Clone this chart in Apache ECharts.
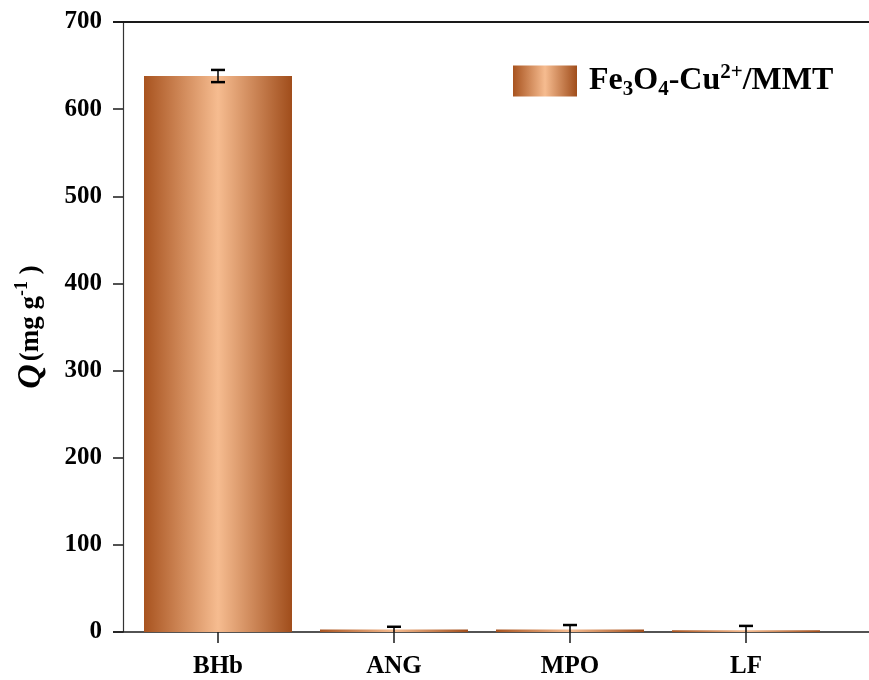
<!DOCTYPE html>
<html>
<head>
<meta charset="utf-8">
<script src="https://cdn.jsdelivr.net/npm/echarts@6/dist/echarts.min.js"></script>
<style>
  html, body { margin: 0; padding: 0; background: #fff; }
  #main { width: 869px; height: 680px; }
</style>
</head>
<body>
<div id="main"></div>
<script>
// data
var categories = ['BHb', 'ANG', 'MPO', 'LF'];
var qValues = [638, 3, 3, 2];
var qErrors = [7, 3, 5, 5];
var yTicks = { min: 0, max: 700, interval: 100 };

var serif = '"Liberation Serif", "Times New Roman", serif';
var ink = '#1a1a1a';

var barColor = new echarts.graphic.LinearGradient(0, 0, 1, 0, [
    { offset: 0, color: '#A8531F' },
    { offset: 0.5, color: '#F6BC90' },
    { offset: 1, color: '#A04D1B' }
]);

// error bars are cut at the x axis, as in the original
var errData = categories.map(function (c, i) {
    return [i, Math.max(yTicks.min, qValues[i] - qErrors[i]), qValues[i] + qErrors[i]];
});

var chart = echarts.init(document.getElementById('main'));
var gridLeft = 130;
var yOffset = 7;

chart.setOption({
    animation: false,
    textStyle: { fontFamily: serif },
    grid: { left: gridLeft, right: 35, top: 22, bottom: 48 },
    legend: {
        left: 513,
        top: 62,
        padding: 0,
        itemWidth: 64,
        itemHeight: 31,
        icon: 'rect',
        data: ['Fe3O4-Cu2+/MMT'],
        formatter: function () {
            return '{b|Fe}{sub|3}{b|O}{sub|4}{b|-Cu}{sup|2+}{b|/MMT}';
        },
        textStyle: {
            padding: [0, 0, 0, 7],
            rich: {
                b: { fontSize: 32, fontWeight: 'bold', fontFamily: serif, color: '#000', lineHeight: 38 },
                sub: { fontSize: 21, fontWeight: 'bold', fontFamily: serif, color: '#000', lineHeight: 19, verticalAlign: 'bottom' },
                sup: { fontSize: 21, fontWeight: 'bold', fontFamily: serif, color: '#000', lineHeight: 21, verticalAlign: 'top' }
            }
        }
    },
    xAxis: {
        type: 'category',
        data: categories,
        axisLine: { show: false },
        axisTick: { show: true, alignWithLabel: true, length: 11, lineStyle: { color: ink, width: 1.5 } },
        axisLabel: { margin: 22, fontSize: 25, fontWeight: 'bold', color: '#000', fontFamily: serif },
        splitLine: { show: false }
    },
    yAxis: {
        type: 'value',
        offset: yOffset,
        min: yTicks.min,
        max: yTicks.max,
        interval: yTicks.interval,
        name: '{q|Q} {t|(mg g}{sup|-1}{t| )}',
        nameLocation: 'middle',
        nameGap: 74,
        nameTextStyle: {
            rich: {
                q: { fontSize: 34, fontWeight: 'bold', fontStyle: 'italic', fontFamily: serif, color: '#000', lineHeight: 36 },
                t: { fontSize: 27, fontWeight: 'bold', fontFamily: serif, color: '#000', lineHeight: 36 },
                sup: { fontSize: 18, fontWeight: 'bold', fontFamily: serif, color: '#000', lineHeight: 20, verticalAlign: 'top' }
            }
        },
        axisLine: { show: true, lineStyle: { color: '#333', width: 1.2 } },
        axisTick: { show: true, length: 10, lineStyle: { color: ink, width: 1.5 } },
        axisLabel: { margin: 21, fontSize: 25, fontWeight: 'bold', color: '#000', fontFamily: serif },
        splitLine: { show: false }
    },
    series: [
        {
            name: 'Fe3O4-Cu2+/MMT',
            type: 'bar',
            data: qValues,
            barWidth: 148,
            itemStyle: { color: barColor },
            z: 2
        },
        {
            type: 'custom',
            data: errData,
            z: 3,
            renderItem: function (params, api) {
                var i = api.value(0);
                var lo = api.coord([i, api.value(1)]);
                var hi = api.coord([i, api.value(2)]);
                var half = 7;
                var style = { stroke: '#000', lineWidth: 2.5 };
                var parts = [
                    { type: 'line', shape: { x1: hi[0], y1: hi[1], x2: lo[0], y2: lo[1] }, style: { stroke: '#000', lineWidth: 1.5 } },
                    { type: 'line', shape: { x1: hi[0] - half, y1: hi[1], x2: hi[0] + half, y2: hi[1] }, style: style }
                ];
                if (api.value(1) > yTicks.min) {
                    parts.push({ type: 'line', shape: { x1: lo[0] - half, y1: lo[1], x2: lo[0] + half, y2: lo[1] }, style: style });
                }
                return { type: 'group', children: parts };
            }
        }
    ]
});

// frame lines at 0 and 700, running past the plot area like the original
var yBottom = chart.convertToPixel({ yAxisIndex: 0 }, yTicks.min);
var yTop = chart.convertToPixel({ yAxisIndex: 0 }, yTicks.max);
var xStart = gridLeft - yOffset - 10;
chart.setOption({
    graphic: [
        { type: 'line', z: 1, shape: { x1: xStart, y1: yBottom, x2: chart.getWidth(), y2: yBottom }, style: { stroke: ink, lineWidth: 1.5 } },
        { type: 'line', z: 1, shape: { x1: xStart, y1: yTop, x2: chart.getWidth(), y2: yTop }, style: { stroke: ink, lineWidth: 2 } }
    ]
});
</script>
</body>
</html>
